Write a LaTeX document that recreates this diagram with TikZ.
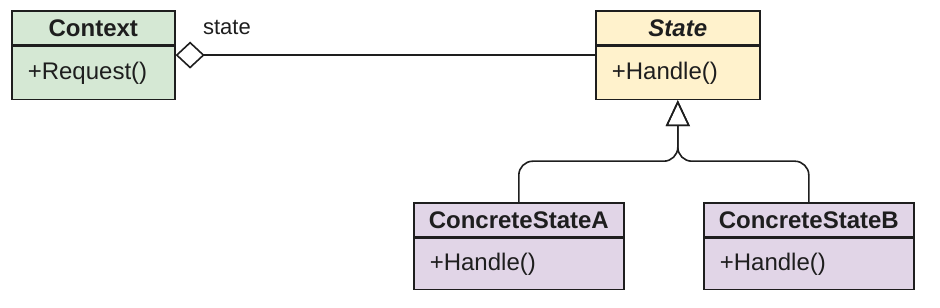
\documentclass[tikz,border=0pt]{standalone}
\usepackage{fontspec}
\setmainfont{Liberation Sans}
\usetikzlibrary{arrows.meta,calc}
\definecolor{ink}{HTML}{1E1E1E}
\definecolor{ctxfill}{HTML}{D5E8D4}
\definecolor{stfill}{HTML}{FFF2CC}
\definecolor{csfill}{HTML}{E1D5E7}

\begin{document}
\begin{tikzpicture}[x=0.5pt,y=-0.5pt,text=ink,font=\fontsize{12}{14}\selectfont,
  chead/.style={draw=ink,line width=0.8pt,minimum height=17pt,inner sep=0pt,anchor=north west,font=\fontsize{12}{14}\selectfont\bfseries},
  cbody/.style={draw=ink,line width=0.8pt,minimum height=26.5pt,inner xsep=8pt,inner ysep=0pt,align=left,anchor=north west},
  inh/.style={draw=ink,line width=0.8pt,rounded corners=7pt,-{Triangle[open,length=13pt,width=12pt]}},
  agg/.style={draw=ink,line width=0.8pt,{Diamond[open,length=14.5pt,width=13.5pt]}-}]
  \useasboundingbox (0,0) rectangle (940,308);

  % Context
  \node[chead,fill=ctxfill,minimum width=81.5pt] (ctxh) at (11,10) {Context};
  \node[cbody,fill=ctxfill,text width=65.5pt] (ctxb) at (ctxh.south west) {+Request()};

  % State
  \node[chead,fill=stfill,minimum width=82pt] (sth) at (595,10) {\itshape State};
  \node[cbody,fill=stfill,text width=66pt] (stb) at (sth.south west) {+Handle()};

  % concrete states
  \node[chead,fill=csfill,minimum width=105pt] (cah) at (413,202) {ConcreteStateA};
  \node[cbody,fill=csfill,text width=89pt,minimum height=25.5pt] (cab) at (cah.south west) {+Handle()};
  \node[chead,fill=csfill,minimum width=105pt] (cbh) at (703,202) {ConcreteStateB};
  \node[cbody,fill=csfill,text width=89pt,minimum height=25.5pt] (cbb) at (cbh.south west) {+Handle()};

  % aggregation
  \coordinate (ctxe) at ($(ctxh.north east)!0.5!(ctxb.south east)$);
  \coordinate (stw) at ($(sth.north west)!0.5!(stb.south west)$);
  \draw[agg] (ctxe) -- (stw)
    node[at start,anchor=west,xshift=10pt,yshift=14pt,font=\fontsize{11}{13}\selectfont] (role) {state};

  % generalization
  \coordinate (hub) at ($(stb.south)+(0,61)$);
  \draw[inh] (cah.north) |- (hub) -- (stb.south);
  \draw[inh] (cbh.north) |- (hub) -- (stb.south);
\end{tikzpicture}
\end{document}
